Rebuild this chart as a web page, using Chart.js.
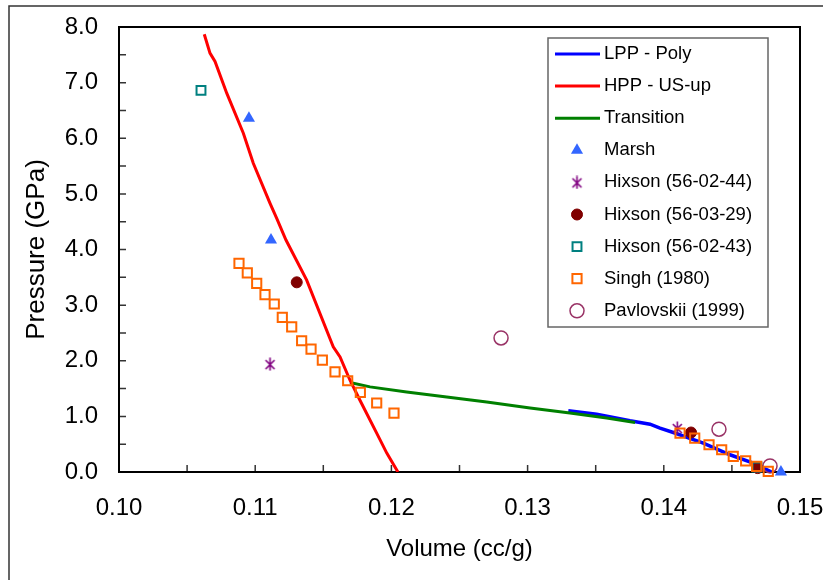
<!DOCTYPE html>
<html>
<head>
<meta charset="utf-8">
<script src="https://cdn.jsdelivr.net/npm/chart.js@4.4.1/dist/chart.umd.min.js"></script>
<style>
  html, body { margin: 0; padding: 0; background: #fff; }
</style>
</head>
<body>
<canvas id="eos" width="823" height="580"></canvas>
<script>
// axis ticks
const xTickVals = [0.10, 0.11, 0.12, 0.13, 0.14, 0.15];
const xMinorVals = [0.105, 0.115, 0.125, 0.135, 0.145];
const yTickVals = [0, 1, 2, 3, 4, 5, 6, 7, 8];
const yMinorVals = [0.5, 1.5, 2.5, 3.5, 4.5, 5.5, 6.5, 7.5];

// model curves (volume cc/g, pressure GPa)
const lppVol = [0.13299, 0.13507, 0.13752, 0.13899, 0.13972, 0.14070, 0.14290, 0.14486, 0.14657, 0.14792];
const lppP   = [1.10, 1.04, 0.92, 0.86, 0.79, 0.71, 0.52, 0.31, 0.16, 0.00];

const hppVol = [0.10626, 0.10668, 0.10705, 0.10791, 0.10913, 0.10986, 0.11109, 0.11158, 0.11226, 0.11378, 0.11573, 0.11623, 0.11696, 0.11769, 0.11892, 0.11966, 0.12048];
const hppP   = [7.87, 7.53, 7.38, 6.81, 6.09, 5.55, 4.83, 4.56, 4.17, 3.45, 2.25, 2.07, 1.65, 1.29, 0.70, 0.34, 0.00];

const transVol = [0.11696, 0.11843, 0.12112, 0.12406, 0.12700, 0.13018, 0.13311, 0.13581, 0.13789];
const transP   = [1.61, 1.53, 1.44, 1.35, 1.26, 1.15, 1.06, 0.97, 0.89];

// measurements
const marshVol = [0.10954, 0.11116, 0.14860];
const marshP   = [6.36, 4.17, 0.00];

const hix44Vol = [0.11109, 0.14099];
const hix44P   = [1.94, 0.79];

const hix29Vol = [0.11305, 0.14200, 0.14689];
const hix29P   = [3.41, 0.71, 0.07];

const hix43Vol = [0.10602, 0.14684];
const hix43P   = [6.86, 0.09];

const singhVol = [0.10881, 0.10942, 0.11011, 0.11072, 0.11140, 0.11199, 0.11268, 0.11341, 0.11410, 0.11493, 0.11586, 0.11679, 0.11772, 0.11892, 0.12019,
                  0.14119, 0.14227, 0.14332, 0.14425, 0.14510, 0.14601, 0.14682, 0.14767];
const singhP   = [3.75, 3.58, 3.39, 3.19, 3.02, 2.78, 2.61, 2.36, 2.21, 2.01, 1.80, 1.64, 1.43, 1.24, 1.06,
                  0.70, 0.61, 0.49, 0.40, 0.28, 0.20, 0.10, 0.01];

const pavVol = [0.12805, 0.14405, 0.14780];
const pavP   = [2.41, 0.77, 0.11];

const pts = (xs, ys) => xs.map((x, i) => ({ x: x, y: ys[i] }));
const FONT = "'Liberation Sans', Arial, sans-serif";

// six-spoke asterisk marker
function makeAsterisk(color) {
    const c = document.createElement('canvas');
    c.width = 13; c.height = 14;
    const g = c.getContext('2d');
    g.strokeStyle = color;
    g.lineWidth = 1.6;
    g.beginPath();
    g.moveTo(2, 3); g.lineTo(11, 12);
    g.moveTo(11, 3); g.lineTo(2, 12);
    g.moveTo(6.5, 0.5); g.lineTo(6.5, 13.5);
    g.stroke();
    return c;
}
const asterisk = makeAsterisk('#800080');

const lineSet = (label, data, color, width, order) => ({
    label, data, showLine: true, borderColor: color, backgroundColor: color,
    borderWidth: width, pointRadius: 0, tension: 0, order
});
const markerSet = (label, data, style, radius, fill, stroke, bw, order) => ({
    label, data, showLine: false, pointStyle: style, pointRadius: radius, pointHoverRadius: radius,
    pointBackgroundColor: fill, pointBorderColor: stroke, pointBorderWidth: bw,
    backgroundColor: fill, borderColor: stroke, clip: false, order
});

const framePlugin = {
    id: 'frame',
    beforeDraw(chart) {
        const c = chart.ctx;
        c.save();
        c.fillStyle = '#fff';
        c.fillRect(0, 0, chart.width, chart.height);
        c.strokeStyle = '#333';
        c.lineWidth = 1.5;
        c.beginPath();
        c.moveTo(9, chart.height);
        c.lineTo(9, 6);
        c.lineTo(chart.width, 6);
        c.stroke();
        c.restore();
    },
    beforeDatasetsDraw(chart) {
        const { ctx, chartArea: a, scales: { x, y } } = chart;
        ctx.save();
        ctx.strokeStyle = '#333';
        ctx.lineWidth = 1.5;
        ctx.beginPath();
        xTickVals.concat(xMinorVals).forEach(v => {
            const px = x.getPixelForValue(v);
            ctx.moveTo(px, a.bottom);
            ctx.lineTo(px, a.bottom - 7);
        });
        yTickVals.concat(yMinorVals).forEach(v => {
            const py = y.getPixelForValue(v);
            ctx.moveTo(a.left, py);
            ctx.lineTo(a.left + 7, py);
        });
        ctx.stroke();
        ctx.strokeStyle = '#000';
        ctx.lineWidth = 2;
        ctx.strokeRect(a.left, a.top, a.right - a.left, a.bottom - a.top);
        ctx.restore();
    }
};

const legendPlugin = {
    id: 'boxLegend',
    afterDraw(chart) {
        const ctx = chart.ctx;
        ctx.save();
        ctx.fillStyle = '#fff';
        ctx.fillRect(548, 38, 220, 289);
        ctx.strokeStyle = '#666';
        ctx.lineWidth = 1.5;
        ctx.strokeRect(548, 38, 220, 289);
        ctx.font = '18.5px ' + FONT;
        ctx.textBaseline = 'middle';
        ctx.textAlign = 'left';
        chart.data.datasets.forEach((ds, i) => {
            const yy = 54 + i * 32.1;
            if (ds.showLine) {
                ctx.strokeStyle = ds.borderColor;
                ctx.lineWidth = 3;
                ctx.beginPath();
                ctx.moveTo(555, yy);
                ctx.lineTo(600, yy);
                ctx.stroke();
            } else {
                ctx.fillStyle = ds.pointBackgroundColor;
                ctx.strokeStyle = ds.pointBorderColor;
                ctx.lineWidth = ds.pointBorderWidth;
                Chart.helpers.drawPoint(ctx, {
                    pointStyle: ds.pointStyle, radius: ds.pointRadius,
                    borderWidth: ds.pointBorderWidth, rotation: 0
                }, 577, yy);
            }
            ctx.fillStyle = '#000';
            ctx.fillText(ds.label, 604, yy);
        });
        ctx.restore();
    }
};

new Chart(document.getElementById('eos').getContext('2d'), {
    type: 'scatter',
    data: {
        datasets: [
            lineSet('LPP - Poly', pts(lppVol, lppP), '#0000FF', 3.5, 12),
            lineSet('HPP - US-up', pts(hppVol, hppP), '#FF0000', 3, 10),
            lineSet('Transition', pts(transVol, transP), '#008000', 3, 11),
            markerSet('Marsh', pts(marshVol, marshP), 'triangle', 7, '#3366FF', '#3366FF', 0, 5),
            markerSet('Hixson (56-02-44)', pts(hix44Vol, hix44P), asterisk, 7, '#800080', '#800080', 0, 4),
            markerSet('Hixson (56-03-29)', pts(hix29Vol, hix29P), 'circle', 5.5, '#800000', '#800000', 1, 3),
            markerSet('Hixson (56-02-43)', pts(hix43Vol, hix43P), 'rect', 6.3, 'rgba(0,0,0,0)', '#008080', 2, 2),
            markerSet('Singh (1980)', pts(singhVol, singhP), 'rect', 6.5, 'rgba(0,0,0,0)', '#FF6600', 2, 0),
            markerSet('Pavlovskii (1999)', pts(pavVol, pavP), 'circle', 7, 'rgba(0,0,0,0)', '#993366', 1.5, 1)
        ]
    },
    options: {
        responsive: false,
        animation: false,
        layout: { padding: { left: 0, top: 27, right: 23, bottom: 0 } },
        plugins: { legend: { display: false }, tooltip: { enabled: false } },
        scales: {
            x: {
                type: 'linear', min: 0.10, max: 0.15,
                grid: { display: false, drawTicks: false },
                border: { display: false },
                afterBuildTicks: s => { s.ticks = xTickVals.map(v => ({ value: v })); },
                ticks: {
                    padding: 22, color: '#000', maxRotation: 0, autoSkip: false,
                    font: { family: FONT, size: 24 },
                    callback: v => Number(v).toFixed(2)
                },
                title: {
                    display: true, text: 'Volume (cc/g)', color: '#000',
                    font: { family: FONT, size: 24 }, padding: { top: 0, bottom: 16 }
                },
                afterFit: s => { s.height = 108; s.paddingLeft = 0; s.paddingRight = 0; }
            },
            y: {
                type: 'linear', min: 0, max: 8,
                grid: { display: false, drawTicks: false },
                border: { display: false },
                afterBuildTicks: s => { s.ticks = yTickVals.map(v => ({ value: v })); },
                ticks: {
                    padding: 21, color: '#000',
                    font: { family: FONT, size: 24 },
                    callback: v => Number(v).toFixed(1)
                },
                title: {
                    display: true, text: 'Pressure (GPa)', color: '#000',
                    font: { family: FONT, size: 26 }, padding: { top: 21, bottom: 0 }
                },
                afterFit: s => { s.width = 119; s.paddingTop = 0; s.paddingBottom = 0; }
            }
        }
    },
    plugins: [framePlugin, legendPlugin]
});
</script>
</body>
</html>
